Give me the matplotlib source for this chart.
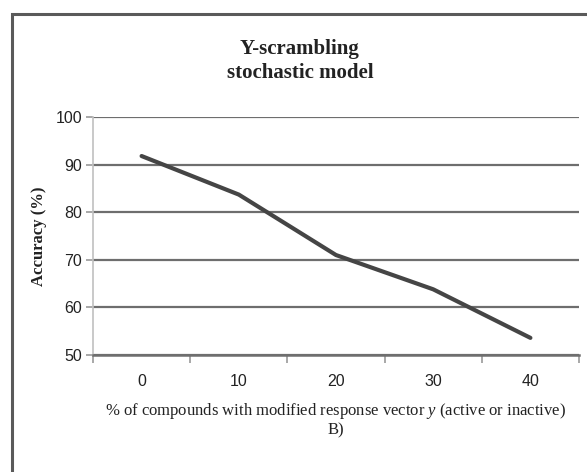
import matplotlib
matplotlib.use("Agg")
import matplotlib.pyplot as plt
from matplotlib.patches import Rectangle

plt.rcParams["mathtext.fontset"] = "custom"
plt.rcParams["mathtext.it"] = "Liberation Serif:italic"
plt.rcParams["mathtext.rm"] = "Liberation Serif"

# data
percent_modified = ["0", "10", "20", "30", "40"]
accuracy = [91.8, 83.7, 71.0, 63.8, 53.6]
y_ticks = [50, 60, 70, 80, 90, 100]

fig = plt.figure(figsize=(5.87, 4.72), dpi=100)
fig.patch.set_facecolor("white")

# outer frame (runs off the right and bottom edges)
fig.patches.append(Rectangle((12 / 587, -0.2), 1.2, 1.2 - 14 / 472,
                             transform=fig.transFigure, fill=False,
                             edgecolor="#5a5a5a", linewidth=2.2, zorder=0))

ax = fig.add_axes([93 / 587, 1 - 355 / 472, (579 - 93) / 587, (355 - 117) / 472])

x = list(range(len(percent_modified)))
ax.plot(x, accuracy, color="#454545", linewidth=3, solid_capstyle="round", zorder=3)

ax.set_xlim(-0.5, len(x) - 0.5)
ax.set_ylim(50, 100)
ax.set_yticks(y_ticks)
ax.set_xticks(x)
ax.set_xticklabels(percent_modified)
ax.set_xticks([i - 0.5 for i in range(len(x) + 1)], minor=True)

ax.yaxis.grid(True, color="#6e6e6e", linewidth=1.6)
ax.set_axisbelow(True)

for s in ["top", "right"]:
    ax.spines[s].set_visible(False)
ax.spines["left"].set_color("#c0c0c0")
ax.spines["left"].set_linewidth(1.2)
ax.spines["bottom"].set_color("#6e6e6e")
ax.spines["bottom"].set_linewidth(1.8)

ax.tick_params(axis="x", which="major", length=0, pad=14, labelsize=11.5)
ax.tick_params(axis="x", which="minor", length=6, color="#9a9a9a", width=1.2)
ax.tick_params(axis="y", length=5, color="#9a9a9a", width=1.2, labelsize=11.5, pad=3)
for lab in ax.get_xticklabels() + ax.get_yticklabels():
    lab.set_family("Liberation Sans")
    lab.set_color("#222222")

ax.set_xlabel("% of compounds with modified response vector $y$ (active or inactive)\nB)",
              family="Liberation Serif", fontsize=12, labelpad=8, linespacing=1.15,
              color="#222222")
ax.set_ylabel("Accuracy (%)", family="Liberation Serif", fontweight="bold", fontsize=12,
              labelpad=6, color="#222222")

fig.text(300 / 587, 1 - 61 / 472, "Y-scrambling\nstochastic model", ha="center", va="center",
         family="Liberation Serif", fontweight="bold", fontsize=15, linespacing=1.25,
         color="#222222")

fig.savefig("out.png", dpi=100)
